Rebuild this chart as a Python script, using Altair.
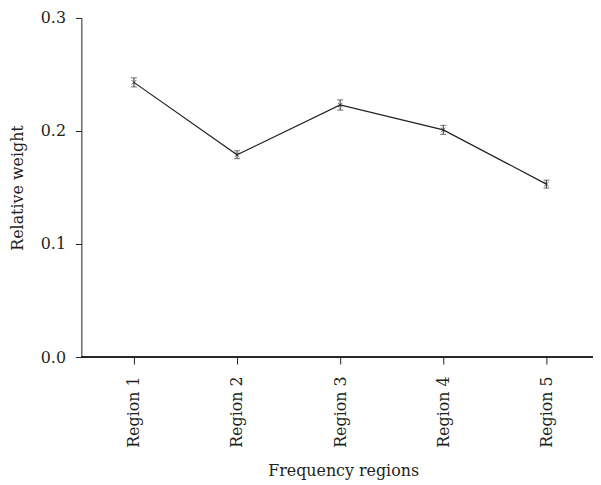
import altair as alt
import pandas as pd

regions = ["Region 1", "Region 2", "Region 3", "Region 4", "Region 5"]
weights = [0.243, 0.179, 0.223, 0.201, 0.153]
errors = [0.004, 0.0035, 0.0045, 0.004, 0.0035]

df = pd.DataFrame({
    "region": regions,
    "weight": weights,
    "lo": [w - e for w, e in zip(weights, errors)],
    "hi": [w + e for w, e in zip(weights, errors)],
})

W, H = 516, 342
FONT = "DejaVu Serif"
INK = "#231f20"

x = alt.X("region:N", sort=regions, title="Frequency regions",
          scale=alt.Scale(type="point", range=[53, 469], padding=0),
          axis=alt.Axis(domain=False, labelAngle=-90, labelAlign="right",
                        labelBaseline="middle", tickSize=7, labelPadding=12,
                        titlePadding=15, titleX=264))
y = alt.Y("weight:Q", title="Relative weight",
          scale=alt.Scale(domain=[0, 0.3], nice=False, zero=True),
          axis=alt.Axis(values=[0, 0.1, 0.2, 0.3], format=".1f", grid=False,
                        tickSize=6, labelPadding=10, titlePadding=15))

base = alt.Chart(df)

xaxis_line = base.mark_rule(color=INK, strokeWidth=1).encode(
    x=alt.value(0), x2=alt.value(W), y=alt.value(H)
)

line = base.mark_line(color=INK, strokeWidth=1.2).encode(x=x, y=y)

bars = base.mark_rule(color="#333333", strokeWidth=1).encode(
    x=alt.X("region:N", sort=regions), y="lo:Q", y2="hi:Q"
)
caps_lo = base.mark_tick(color="#333333", thickness=1, size=6, orient="horizontal").encode(
    x=alt.X("region:N", sort=regions), y="lo:Q"
)
caps_hi = base.mark_tick(color="#333333", thickness=1, size=6, orient="horizontal").encode(
    x=alt.X("region:N", sort=regions), y="hi:Q"
)
pts = base.mark_point(shape="M-1,-1L1,1M-1,1L1,-1", size=20, color=INK,
                      strokeWidth=1, filled=False).encode(
    x=alt.X("region:N", sort=regions), y="weight:Q"
)

chart = alt.layer(line, bars, caps_lo, caps_hi, pts, xaxis_line).properties(
    width=W, height=H,
    autosize=alt.AutoSizeParams(type="none"),
    padding={"left": 74, "top": 8, "right": 0, "bottom": 126},
).configure_view(stroke=None).configure_axis(
    labelFont=FONT, titleFont=FONT, labelFontSize=16, titleFontSize=16,
    labelColor=INK, titleColor=INK, domainColor=INK, tickColor=INK,
    titleFontWeight="normal", labelFontWeight="normal",
)

chart.save("out.html", embed_options={"renderer": "svg", "actions": False})
